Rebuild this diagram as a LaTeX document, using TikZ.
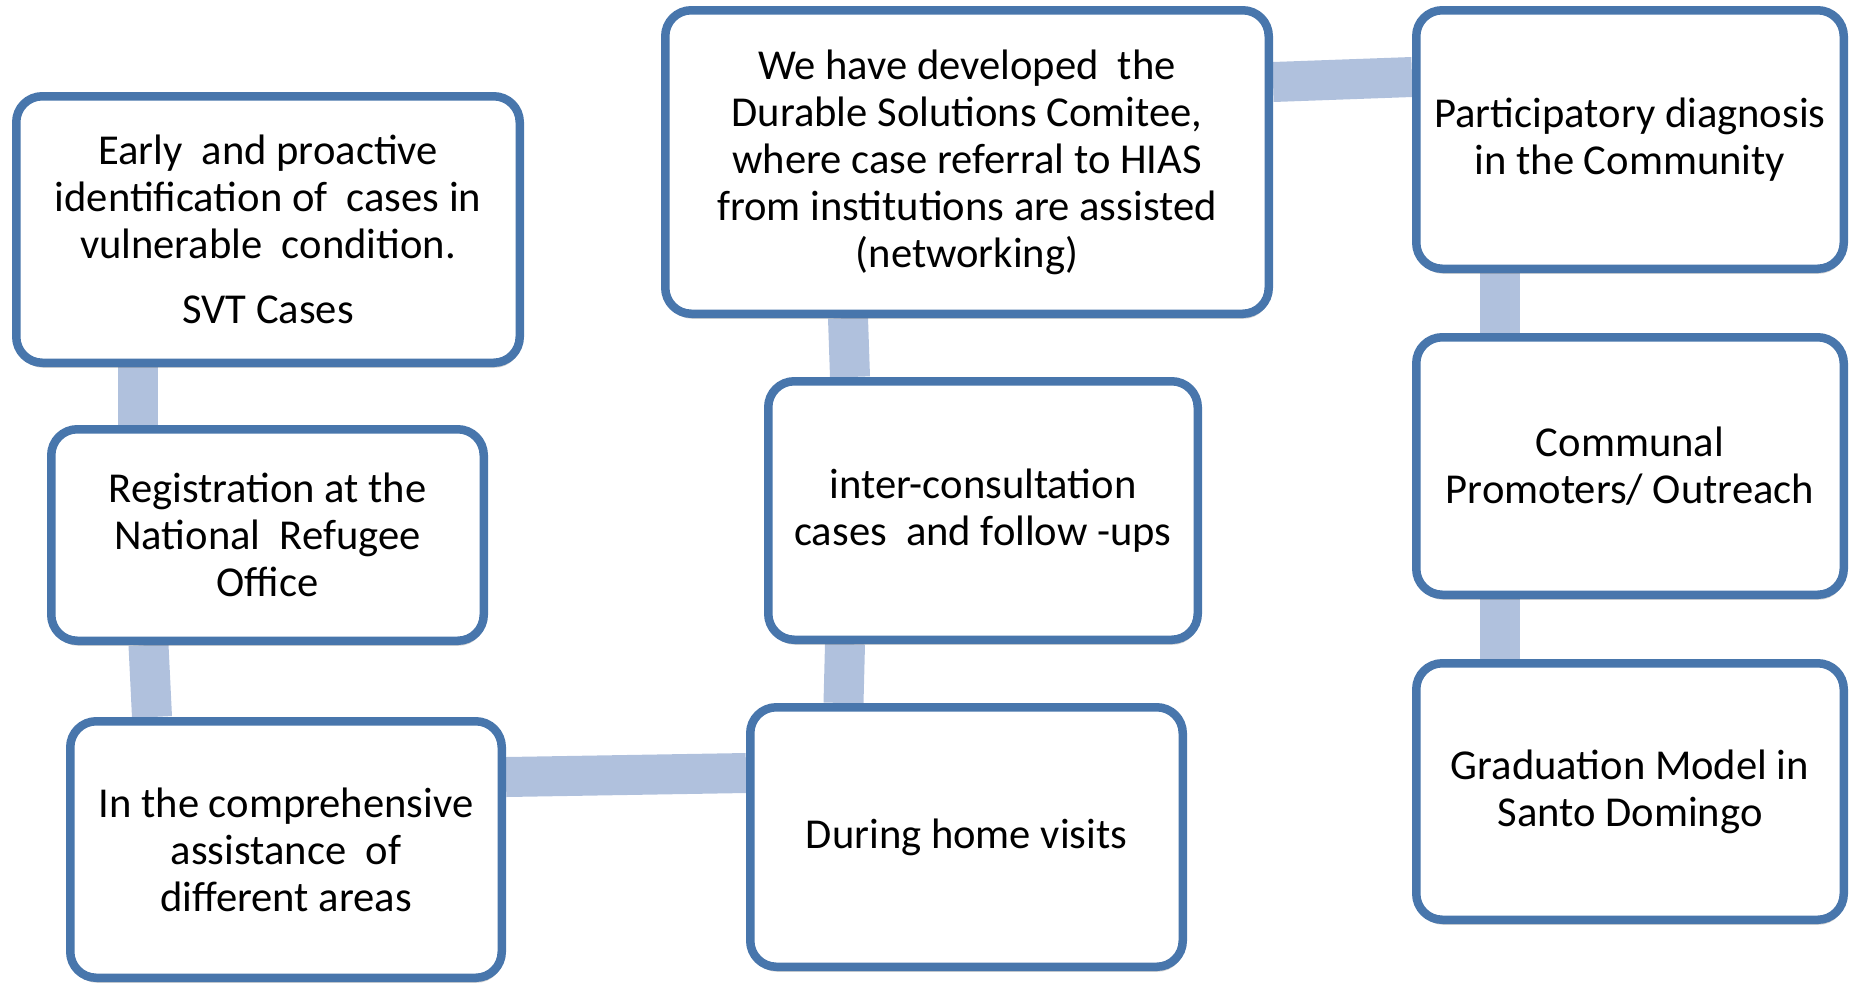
\documentclass[tikz,border=0pt]{standalone}
\usepackage{fontspec}
\setmainfont{Carlito}
\usetikzlibrary{positioning,shadows,backgrounds}
\definecolor{boxblue}{RGB}{72,118,172}
\definecolor{linkblue}{RGB}{176,193,221}

\begin{document}
\begin{tikzpicture}[x=0.5pt,y=-0.5pt,
  box/.style={draw=boxblue, line width=4.25pt, rounded corners=13pt, fill=white,
    align=center, inner sep=0pt, font=\fontsize{21.3}{23.5}\selectfont,
    drop shadow={shadow xshift=0.5pt, shadow yshift=-2.5pt, opacity=0.3, fill=black!60}},
  link/.style={linkblue, line width=20pt}]
\useasboundingbox (0,0) rectangle (1851,982);
% left column
\node[box, minimum width=251.75pt, minimum height=133.25pt] (early) at (268,229.5)
  {Early~ and proactive\\identification of~ cases in\\vulnerable~ condition.\\[9pt]SVT Cases};
\node[box, minimum width=216.25pt, minimum height=105.75pt] (reg) at (267.5,535)
  {Registration at the\\National~ Refugee\\Office};
\node[box, minimum width=215.75pt, minimum height=128.25pt] (compr) at (286,849.5)
  {In the comprehensive\\assistance~ of\\different areas};
% middle column
\node[box, minimum width=216.25pt, minimum height=129.75pt] (home) at (966.5,837)
  {During home visits};
\node[box, minimum width=214.75pt, minimum height=129.25pt] (inter) at (983,510.5)
  {inter-consultation\\cases~ and follow -ups};
\node[box, minimum width=301.75pt, minimum height=151.75pt] (durable) at (967,162)
  {We have developed~ the\\Durable Solutions Comitee,\\where case referral to HIAS\\from institutions are assisted\\(networking)};
% right column
\node[box, minimum width=213.75pt, minimum height=129.25pt] (partic) at (1630,139.5)
  {Participatory diagnosis\\in the Community};
\node[box, minimum width=213.75pt, minimum height=128.75pt] (commun) at (1630,466)
  {Communal\\Promoters/ Outreach};
\node[box, minimum width=213.75pt, minimum height=128.25pt] (grad) at (1630,791.5)
  {Graduation Model in\\Santo Domingo};
% links behind the boxes
\begin{scope}[on background layer]
\draw[link] ([xshift=-65pt]early.south) -- ([xshift=-64.75pt]reg.north);
\draw[link] ([xshift=-59.5pt]reg.south) -- ([xshift=-67pt]compr.north);
\draw[link] ([yshift=36.25pt]compr.east) -- ([yshift=32pt]home.west);
\draw[link] ([xshift=-61.5pt]home.north) -- ([xshift=-69pt]inter.south);
\draw[link] ([xshift=-66.5pt]inter.north) -- ([xshift=-59.5pt]durable.south);
\draw[link] ([yshift=40pt]durable.east) -- ([yshift=31.25pt]partic.west);
\draw[link] ([xshift=-65pt]partic.south) -- ([xshift=-65pt]commun.north);
\draw[link] ([xshift=-65pt]commun.south) -- ([xshift=-65pt]grad.north);
\end{scope}
\end{tikzpicture}
\end{document}
